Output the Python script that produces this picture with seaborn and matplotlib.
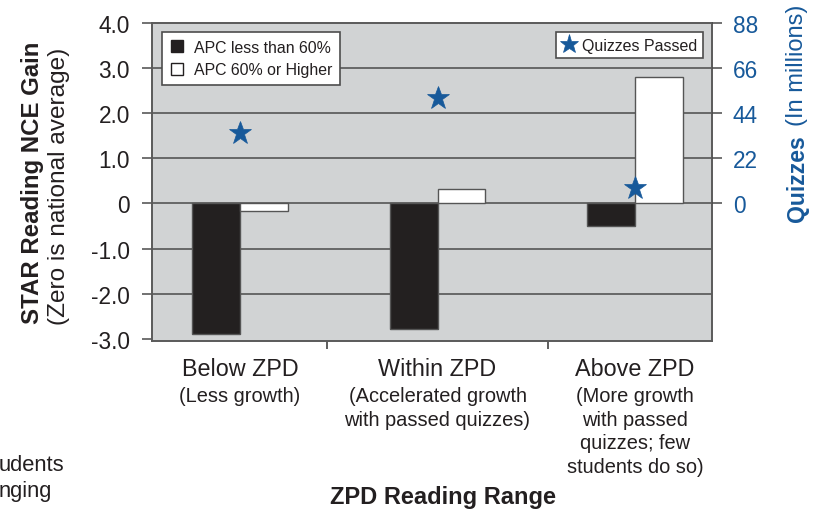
import matplotlib
matplotlib.use('Agg')
import matplotlib.pyplot as plt
import seaborn as sns
import pandas as pd
from matplotlib.lines import Line2D

# ---- data ----
categories = ['Below ZPD', 'Within ZPD', 'Above ZPD']
subtitles = [['(Less growth)'],
             ['(Accelerated growth', 'with passed quizzes)'],
             ['(More growth', 'with passed', 'quizzes; few', 'students do so)']]
series_names = ['APC less than 60%', 'APC 60% or Higher']
apc_low = [-2.90, -2.78, -0.51]
apc_high = [-0.17, 0.32, 2.80]
quizzes = [34.3, 51.4, 7.4]
left_ticks = [-3, -2, -1, 0, 1, 2, 3, 4]
left_tick_labels = ['-3.0', '-2.0', '-1.0', '0', '1.0', '2.0', '3.0', '4.0']
right_ticks = [0, 22, 44, 66, 88]
right_tick_labels = ['0', '22', '44', '66', '88']

BLACK = '#231f20'
EDGE = '#555555'
BLUE = '#17599a'
BG = '#d1d3d4'
TXT = '#231f20'

sns.set_theme(style='white')
plt.rcParams['font.family'] = ['Liberation Sans', 'DejaVu Sans']

W, H = 822, 510
fig = plt.figure(figsize=(W / 100, H / 100), dpi=100)
ax = fig.add_axes([152 / W, 1 - 342 / H, 560 / W, 318 / H])
ax.set_facecolor(BG)

df = pd.DataFrame({
    'range': categories * 2,
    'series': [series_names[0]] * 3 + [series_names[1]] * 3,
    'gain': apc_low + apc_high,
})
sns.barplot(data=df, x='range', y='gain', hue='series', order=categories,
            hue_order=series_names, palette=[BLACK, '#ffffff'], width=0.486,
            errorbar=None, edgecolor=EDGE, linewidth=1.0, legend=False,
            ax=ax, zorder=3)

ax2 = ax.twinx()
sns.pointplot(x=categories, y=quizzes, order=categories, color=BLUE,
              markers='*', linestyle='none', markersize=17,
              markeredgewidth=0.5, errorbar=None, ax=ax2)

# axes limits
ax.set_ylim(-3.05, 4.0)
ax2.set_ylim(-3.05 * 22, 88)
ax.set_xlim(-0.4456, 2.3899)

# left y ticks
ax.set_yticks(left_ticks)
ax.set_yticklabels(left_tick_labels)
ax.tick_params(axis='y', which='major', left=True, length=7, width=1.1,
               color='#4a4a4a', direction='out', pad=9, labelsize=16.3,
               labelcolor=TXT)

# grid + spines
ax.set_axisbelow(True)
ax.yaxis.grid(True, color='#4a4a4a', linewidth=1.1)
ax.xaxis.grid(False)
gl = ax.get_ygridlines()
gl[0].set_visible(False)
gl[-1].set_visible(False)
for s in ax.spines.values():
    s.set_visible(True)
    s.set_color('#5a5a5a')
    s.set_linewidth(1.4)
for s in ax2.spines.values():
    s.set_visible(False)

# right y ticks
ax2.set_yticks(right_ticks)
ax2.set_yticklabels(right_tick_labels)
ax2.tick_params(axis='y', which='major', right=True, length=7, width=1.1,
                color='#4a4a4a', direction='out', pad=8, labelsize=16.3,
                labelcolor=BLUE)
ax2.set_ylabel('')
ax2.set_xlabel('')
ax.set_ylabel('')
ax.set_xlabel('')

# x ticks: only separators between groups
ax.set_xticks([])
ax.set_xticks([0.44, 1.56], minor=True)
ax.tick_params(axis='x', which='minor', bottom=True, length=6, width=1.1,
               color='#333333', direction='out')
ax.tick_params(axis='x', which='major', bottom=False, labelbottom=False)

# category labels
for i, cat in enumerate(categories):
    ax.annotate(cat, xy=(i, 0), xycoords=('data', 'axes fraction'),
                xytext=(0, -34), textcoords='offset pixels', ha='center',
                va='baseline', fontsize=16.8, color=TXT)
    for j, line in enumerate(subtitles[i]):
        ax.annotate(line, xy=(i, 0), xycoords=('data', 'axes fraction'),
                    xytext=(0, -60 - 23.6 * j), textcoords='offset pixels',
                    ha='center', va='baseline', fontsize=14.4, color=TXT)

# axis titles
fig.text(33 / W, 1 - 183 / H, 'STAR Reading NCE Gain', rotation=90,
         ha='center', va='center', fontsize=17.3, fontweight='bold', color=TXT)
fig.text(59 / W, 1 - 186 / H, '(Zero is national average)', rotation=90,
         ha='center', va='center', fontsize=17.6, color=TXT)
fig.text(797 / W, 1 - 222 / H, 'Quizzes', rotation=90, ha='center',
         va='bottom', fontsize=16.6, fontweight='bold', color=BLUE)
fig.text(797 / W, 1 - 126 / H, '(In millions)', rotation=90, ha='center',
         va='bottom', fontsize=17, color=BLUE)
fig.text(443 / W, 1 - 504 / H, 'ZPD Reading Range', ha='center',
         va='baseline', fontsize=17, fontweight='bold', color=TXT)

# cut-off text at bottom left
fig.text(-1 / W, 1 - 471 / H, 'udents', ha='left', va='baseline',
         fontsize=15.8, color=TXT)
fig.text(-1 / W, 1 - 497 / H, 'nging', ha='left', va='baseline',
         fontsize=15.8, color=TXT)

# legends
h1 = [Line2D([], [], marker='s', linestyle='none', markersize=9,
             markerfacecolor=BLACK, markeredgecolor=BLACK),
      Line2D([], [], marker='s', linestyle='none', markersize=9,
             markerfacecolor='white', markeredgecolor=BLACK,
             markeredgewidth=1.0)]
leg1 = fig.legend(h1, series_names, loc='upper left',
                  bbox_to_anchor=(162 / W, 1 - 33 / H),
                  bbox_transform=fig.transFigure, frameon=True,
                  fancybox=False, framealpha=1, facecolor='white',
                  edgecolor='#4d4d4d', fontsize=11.4, borderaxespad=0,
                  handlelength=0.9, handletextpad=0.6, labelspacing=0.45,
                  borderpad=0.5, labelcolor=TXT)
leg1.get_frame().set_linewidth(1.2)

h2 = [Line2D([], [], marker='*', linestyle='none', markersize=14,
             markerfacecolor=BLUE, markeredgecolor=BLUE, markeredgewidth=0.5)]
leg2 = fig.legend(h2, ['Quizzes Passed'], loc='upper right',
                  bbox_to_anchor=(703 / W, 1 - 33 / H),
                  bbox_transform=fig.transFigure, frameon=True,
                  fancybox=False, framealpha=1, facecolor='white',
                  edgecolor='#4d4d4d', fontsize=11.5, borderaxespad=0,
                  handlelength=0.9, handletextpad=0.4, borderpad=0.35,
                  labelcolor=TXT)
leg2.get_frame().set_linewidth(1.2)

fig.savefig('out.png', dpi=100)
